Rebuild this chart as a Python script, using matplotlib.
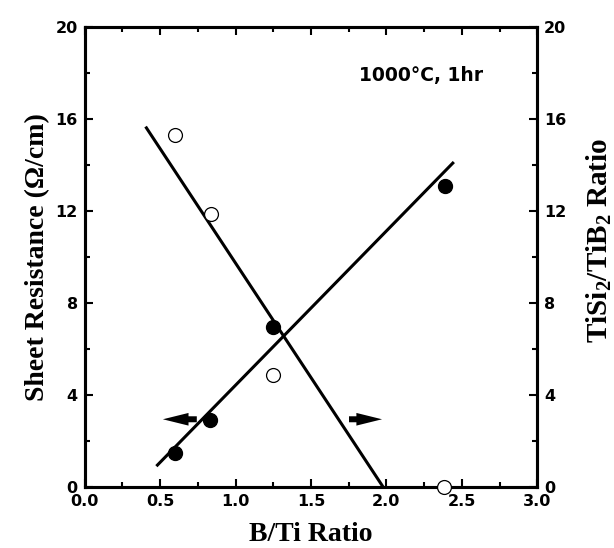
"""
Sheet resistance and TiSi2/TiB2 ratio vs B/Ti ratio (1000 C, 1 hr anneal)
"""
import matplotlib
matplotlib.use("Agg")
import matplotlib.pyplot as plt
from matplotlib.ticker import MultipleLocator

plt.rcParams['mathtext.fontset'] = 'custom'
plt.rcParams['mathtext.rm'] = 'Liberation Serif:bold'
plt.rcParams['mathtext.it'] = 'Liberation Serif:bold'
plt.rcParams['mathtext.bf'] = 'Liberation Serif:bold'

# Sheet resistance (filled, left axis)
bti_rs = [0.60, 0.83, 1.247, 2.39]
sheet_res = [1.47, 2.92, 6.96, 13.07]
# TiSi2/TiB2 ratio (open, right axis)
bti_ratio = [0.60, 0.84, 1.247, 2.383]
phase_ratio = [15.28, 11.88, 4.87, 0.0]

# fitted lines, endpoints
fit_rs_x = [0.482, 2.44]
fit_rs_y = [0.96, 14.08]
fit_ratio_x = [0.409, 1.979]
fit_ratio_y = [15.61, 0.0]

x_ticks = [0.0, 0.5, 1.0, 1.5, 2.0, 2.5, 3.0]
y_ticks = [0, 4, 8, 12, 16, 20]

TICK_FONT = dict(family='DejaVu Sans', weight='bold', size=11.5)
LABEL_FONT = dict(family='Liberation Serif', weight='bold', size=20)


def style_axis(ax):
    ax.tick_params(which='both', direction='in', width=1.5)
    ax.tick_params(which='major', length=6)
    ax.tick_params(which='minor', length=3.5)
    for s in ax.spines.values():
        s.set_linewidth(2.2)


def main():
    fig = plt.figure(figsize=(6.14, 5.48), dpi=100)
    ax = fig.add_axes([0.138, 0.111, 0.737, 0.840])
    ax2 = ax.twinx()

    ax.plot(fit_rs_x, fit_rs_y, color='black', lw=2.2)
    ax.plot(bti_rs, sheet_res, 'o', color='black', ms=10, zorder=3)

    ax2.plot(fit_ratio_x, fit_ratio_y, color='black', lw=2.2)
    ax2.plot(bti_ratio, phase_ratio, 'o', mfc='white', mec='black',
             mew=0.9, ms=10, zorder=3, clip_on=False)

    # arrows pointing to the axis each series belongs to
    arrow_kw = dict(width=0.26, head_width=0.55, head_length=0.17,
                    length_includes_head=True, fc='black', ec='black', lw=0)
    ax.arrow(0.743, 2.95, -0.225, 0, **arrow_kw)
    ax.arrow(1.752, 2.95, 0.219, 0, **arrow_kw)

    ax.text(1.815, 17.9, '1000°C, 1hr', ha='left', va='center',
            family='DejaVu Sans', weight='bold', size=13.5)

    ax.set_xlim(0, 3.0)
    ax.set_ylim(0, 20)
    ax2.set_ylim(0, 20)
    ax.set_xticks(x_ticks)
    ax.set_xticklabels([f'{v:.1f}' for v in x_ticks], **TICK_FONT)
    ax.set_yticks(y_ticks)
    ax.set_yticklabels([str(v) for v in y_ticks], **TICK_FONT)
    ax2.set_yticks(y_ticks)
    ax2.set_yticklabels([str(v) for v in y_ticks], **TICK_FONT)
    ax.xaxis.set_minor_locator(MultipleLocator(0.25))
    ax.yaxis.set_minor_locator(MultipleLocator(2))
    ax2.yaxis.set_minor_locator(MultipleLocator(2))
    ax.tick_params(axis='x', which='both', top=True)

    style_axis(ax)
    style_axis(ax2)
    ax.tick_params(axis='both', pad=5)
    ax2.tick_params(axis='y', pad=5)

    ax.set_xlabel('B/Ti Ratio', labelpad=9, **LABEL_FONT)
    ax.set_ylabel('Sheet Resistance (\u03a9/cm)', labelpad=4, **LABEL_FONT)
    ax2.set_ylabel(r'TiSi$_2$/TiB$_2$ Ratio', family='Liberation Serif',
                   weight='bold', size=21)
    ax2.yaxis.set_label_coords(1.105, 0.537)

    fig.savefig('out.png', dpi=100)


if __name__ == "__main__":
    main()
